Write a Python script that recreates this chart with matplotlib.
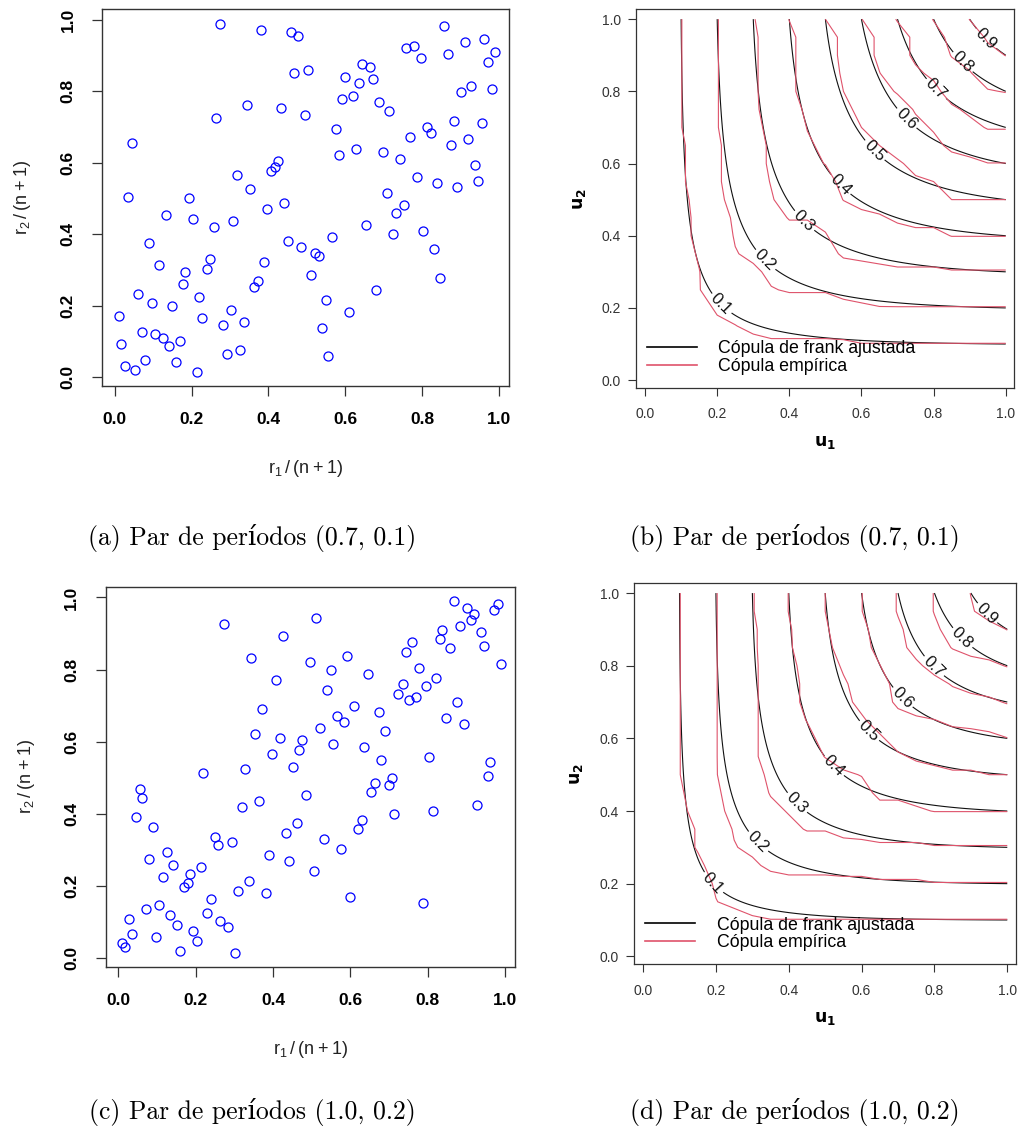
import numpy as np
import matplotlib.pyplot as plt
from matplotlib.lines import Line2D

u_a = [0.273, 0.381, 0.460, 0.476, 0.466, 0.343, 0.432, 0.496, 0.264, 0.045, 0.424, 0.417, 0.406, 0.318,
       0.352, 0.035, 0.194, 0.441,
       0.504, 0.858, 0.911, 0.962, 0.990, 0.971, 0.866, 0.759, 0.778, 0.797, 0.644, 0.664, 0.600, 0.635,
       0.673, 0.620, 0.591, 0.689, 0.714, 0.927, 0.901, 0.981, 0.575, 0.883, 0.956, 0.813, 0.822, 0.768,
       0.876, 0.920, 0.584, 0.628, 0.699, 0.743, 0.937, 0.945, 0.787, 0.839, 0.891, 0.708,
       0.397, 0.133, 0.203, 0.307, 0.258, 0.089, 0.451, 0.485, 0.115, 0.248, 0.239, 0.184, 0.388, 0.178,
       0.372, 0.363, 0.061, 0.220, 0.096, 0.149, 0.010, 0.302, 0.228, 0.283, 0.337, 0.071, 0.105, 0.125,
       0.169, 0.141, 0.016, 0.293, 0.327, 0.080, 0.159, 0.026, 0.054, 0.214,
       0.752, 0.733, 0.654, 0.723, 0.803, 0.566, 0.832, 0.521, 0.531, 0.511, 0.847, 0.679, 0.549, 0.609,
       0.540, 0.555]
v_a = [0.989, 0.972, 0.965, 0.955, 0.850, 0.761, 0.754, 0.734, 0.726, 0.655, 0.604, 0.587, 0.576, 0.566,
       0.526, 0.505, 0.502, 0.488,
       0.860, 0.983, 0.938, 0.946, 0.911, 0.883, 0.904, 0.922, 0.927, 0.894, 0.877, 0.867, 0.839, 0.822,
       0.833, 0.788, 0.778, 0.771, 0.744, 0.816, 0.798, 0.806, 0.693, 0.716, 0.710, 0.700, 0.683, 0.672,
       0.649, 0.665, 0.621, 0.638, 0.631, 0.611, 0.594, 0.549, 0.559, 0.543, 0.532, 0.515,
       0.471, 0.454, 0.443, 0.436, 0.419, 0.375, 0.382, 0.365, 0.314, 0.331, 0.303, 0.293, 0.321, 0.260,
       0.270, 0.252, 0.232, 0.225, 0.208, 0.198, 0.171, 0.188, 0.164, 0.147, 0.153, 0.126, 0.120, 0.109,
       0.102, 0.086, 0.092, 0.065, 0.075, 0.047, 0.041, 0.031, 0.020, 0.014,
       0.481, 0.460, 0.427, 0.400, 0.409, 0.392, 0.358, 0.348, 0.338, 0.287, 0.276, 0.243, 0.215, 0.181,
       0.136, 0.058]

u_c = [0.273, 0.426, 0.344, 0.496, 0.407, 0.371, 0.353, 0.417, 0.476, 0.467, 0.397, 0.451, 0.328, 0.220,
       0.512, 0.867, 0.902, 0.921, 0.912, 0.982, 0.972, 0.884, 0.838, 0.832, 0.858, 0.937, 0.946, 0.991,
       0.760, 0.743, 0.592, 0.549, 0.645, 0.778, 0.822, 0.797, 0.735, 0.724, 0.769, 0.752, 0.540, 0.610,
       0.565, 0.584, 0.673, 0.521, 0.690, 0.876, 0.848, 0.893, 0.556, 0.636, 0.679, 0.803, 0.962, 0.956,
       0.709, 0.665,
       0.055, 0.061, 0.045, 0.090, 0.319, 0.363, 0.486, 0.433, 0.462, 0.249, 0.258, 0.293, 0.125, 0.080,
       0.140, 0.389, 0.442, 0.506, 0.213, 0.184, 0.179, 0.169, 0.115, 0.338, 0.309, 0.382, 0.239, 0.027,
       0.071, 0.106, 0.134, 0.151, 0.229, 0.264, 0.283, 0.036, 0.096, 0.194, 0.204, 0.010, 0.017, 0.159,
       0.302,
       0.699, 0.654, 0.928, 0.813, 0.714, 0.629, 0.620, 0.531, 0.575, 0.600, 0.788]
v_c = [0.927, 0.893, 0.832, 0.821, 0.770, 0.691, 0.620, 0.609, 0.603, 0.576, 0.566, 0.530, 0.525, 0.514,
       0.944, 0.989, 0.971, 0.955, 0.937, 0.982, 0.964, 0.921, 0.910, 0.884, 0.860, 0.903, 0.866, 0.814,
       0.876, 0.849, 0.838, 0.798, 0.788, 0.804, 0.777, 0.754, 0.760, 0.733, 0.725, 0.715, 0.742, 0.699,
       0.672, 0.654, 0.682, 0.637, 0.630, 0.709, 0.665, 0.648, 0.592, 0.585, 0.549, 0.558, 0.542, 0.504,
       0.499, 0.486,
       0.469, 0.442, 0.391, 0.364, 0.419, 0.435, 0.453, 0.347, 0.374, 0.336, 0.312, 0.320, 0.293, 0.275,
       0.258, 0.285, 0.269, 0.241, 0.251, 0.231, 0.207, 0.196, 0.224, 0.214, 0.186, 0.179, 0.163, 0.108,
       0.136, 0.146, 0.118, 0.092, 0.125, 0.102, 0.084, 0.065, 0.057, 0.074, 0.046, 0.041, 0.029, 0.018,
       0.013,
       0.480, 0.459, 0.425, 0.408, 0.398, 0.381, 0.357, 0.329, 0.302, 0.169, 0.152]

# parametro da copula de Frank ajustada (estimado a olho)
theta_b = 4.0
theta_d = 5.0
levels = [0.1, 0.2, 0.3, 0.4, 0.5, 0.6, 0.7, 0.8, 0.9]
ticks = [0.0, 0.2, 0.4, 0.6, 0.8, 1.0]
tick_labels = ['0.0', '0.2', '0.4', '0.6', '0.8', '1.0']
captions = ['(a) Par de períodos (0.7, 0.1)', '(b) Par de períodos (0.7, 0.1)',
            '(c) Par de períodos (1.0, 0.2)', '(d) Par de períodos (1.0, 0.2)']

RED = '#DF536B'
plt.rcParams['font.family'] = ['Liberation Sans', 'DejaVu Sans']
plt.rcParams['mathtext.default'] = 'regular'


def scatter_panel(ax, u, v):
    ax.plot(u, v, 'o', mfc='none', mec='#0000FF', ms=6.5, mew=0.9)
    ax.set_xlim(-0.033, 1.026)
    ax.set_ylim(-0.025, 1.03)
    ax.set_xticks(ticks)
    ax.set_yticks(ticks)
    ax.set_xticklabels(tick_labels, fontweight='bold', fontsize=12.5)
    ax.set_yticklabels(tick_labels, fontweight='bold', fontsize=12.5, rotation=90, va='center')
    ax.tick_params(length=7, width=0.9, pad=12, color='#333333')
    for s in ax.spines.values():
        s.set_color('#333333')
        s.set_linewidth(1.0)
    ax.set_xlabel(r'$r_1\,/\,(n+1)$', fontsize=13, labelpad=22, color='#222222')
    ax.set_ylabel(r'$r_2\,/\,(n+1)$', fontsize=13, labelpad=20, color='#222222')


def pseudo_obs(x):
    x = np.asarray(x)
    return (np.argsort(np.argsort(x)) + 1) / (len(x) + 1)


def copula_panel(ax, u, v, theta, label_pos):
    g = np.linspace(0, 1, 201)
    G1, G2 = np.meshgrid(g, g)
    frank = -np.log1p(np.expm1(-theta * G1) * np.expm1(-theta * G2) / np.expm1(-theta)) / theta

    pu, pv = pseudo_obs(u), pseudo_obs(v)
    e = np.linspace(0, 1, 21)
    E1, E2 = np.meshgrid(e, e)
    emp = ((pu[None, None, :] <= E1[..., None]) & (pv[None, None, :] <= E2[..., None])).mean(axis=2)

    cs = ax.contour(G1, G2, frank, levels=levels, colors='#111111', linewidths=0.8)
    ax.clabel(cs, fmt='%.1f', fontsize=12, inline=True, inline_spacing=3, manual=label_pos)
    ax.contour(E1, E2, emp, levels=levels, colors=RED, linewidths=0.8)

    ax.set_xlim(-0.025, 1.023)
    ax.set_ylim(-0.022, 1.027)
    ax.set_xticks(ticks)
    ax.set_yticks(ticks)
    ax.set_xticklabels(tick_labels, fontsize=10, color='#333333')
    ax.set_yticklabels(tick_labels, fontsize=10, color='#333333')
    ax.tick_params(length=6, width=0.8, color='#333333')
    ax.tick_params(axis='x', pad=8)
    ax.tick_params(axis='y', pad=5)
    for s in ax.spines.values():
        s.set_color('#333333')
        s.set_linewidth(0.9)
    ax.set_xlabel(r'$\mathbf{u_1}$', fontsize=12.5, labelpad=9)
    ax.set_ylabel(r'$\mathbf{u_2}$', fontsize=12.5, labelpad=10)

    handles = [Line2D([], [], color='black', lw=1.2), Line2D([], [], color=RED, lw=1.2)]
    ax.legend(handles, ['Cópula de frank ajustada', 'Cópula empírica'], loc='lower left',
              bbox_to_anchor=(0.03, 0.035), frameon=False, fontsize=12.8, handlelength=2.8,
              handletextpad=1.2, labelspacing=0.02, borderpad=0, borderaxespad=0)


fig = plt.figure(figsize=(10.18, 11.33), dpi=100)
ax_a = fig.add_axes([0.1002, 0.6593, 0.3998, 0.3327])
ax_b = fig.add_axes([0.6248, 0.6575, 0.3713, 0.3342])
ax_c = fig.add_axes([0.1038, 0.1468, 0.4021, 0.3354])
ax_d = fig.add_axes([0.6228, 0.1489, 0.3749, 0.3363])

scatter_panel(ax_a, u_a, v_a)
scatter_panel(ax_c, u_c, v_c)

pos_b = [(0.21, 0.21), (0.33, 0.33), (0.44, 0.44), (0.54, 0.54), (0.63, 0.63),
         (0.73, 0.73), (0.81, 0.81), (0.89, 0.89), (0.95, 0.95)]
pos_d = [(0.19, 0.20), (0.31, 0.31), (0.41, 0.41), (0.52, 0.52), (0.61, 0.61),
         (0.71, 0.71), (0.80, 0.80), (0.88, 0.88), (0.95, 0.95)]
copula_panel(ax_b, u_a, v_a, theta_b, pos_b)
copula_panel(ax_d, u_c, v_c, theta_d, pos_d)

cap_font = ['cmr10', 'DejaVu Serif']
fig.text(0.2475, 0.525, captions[0], ha='center', va='center', fontsize=18.5, family=cap_font)
fig.text(0.781, 0.525, captions[1], ha='center', va='center', fontsize=18.5, family=cap_font)
fig.text(0.2475, 0.0185, captions[2], ha='center', va='center', fontsize=18.5, family=cap_font)
fig.text(0.781, 0.0185, captions[3], ha='center', va='center', fontsize=18.5, family=cap_font)

fig.savefig('out.png', dpi=100)
